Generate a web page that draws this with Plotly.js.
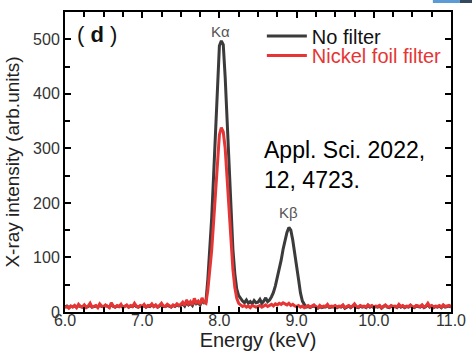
<!DOCTYPE html>
<html>
<head>
<meta charset="utf-8">
<script src="https://cdn.plot.ly/plotly-3.0.1.min.js"></script>
<style>
  html, body { margin: 0; padding: 0; background: #fff; }
  #chart { width: 472px; height: 356px; }
</style>
</head>
<body>
<div id="chart"></div>
<script>
// Spectrum channels: 6.000 keV to 11.000 keV in 0.025 keV steps (201 channels)
const energyStart = 6.0;
const energyStep = 0.025;

// Counts without filter (Cu Kα and Kβ lines)
const noFilter = [
  9, 11, 8, 10, 10, 11, 9, 12, 10, 9, 12, 9, 10, 13, 9, 10, 11, 9, 13, 10,
  10, 12, 10, 9, 14, 10, 9, 11, 10, 12, 9, 10, 12, 9, 11, 10, 13, 10, 9, 11,
  10, 12, 9, 11, 10, 13, 10, 12, 9, 11, 14, 10, 10, 12, 11, 9, 12, 10, 13, 11,
  12, 15, 11, 18, 13, 16, 12, 20, 15, 17, 13, 21, 17, 18, 60, 108, 172, 250, 340, 420,
  488, 497, 490, 430, 348, 262, 180, 115, 70, 42, 30, 24, 20, 17, 22, 16, 19, 15, 21, 17,
  18, 23, 16, 20, 26, 19, 22, 28, 36, 48, 62, 76, 95, 115, 132, 146, 155, 150, 132, 110,
  86, 60, 35, 20, 14, 9, 10, 8, 10, 11, 9, 7, 10, 8, 9, 9, 12, 8, 9, 9,
  11, 8, 10, 9, 12, 7, 9, 11, 8, 10, 13, 9, 8, 11, 9, 10, 8, 12, 9, 11,
  8, 10, 9, 11, 7, 10, 12, 9, 8, 11, 9, 10, 8, 12, 9, 11, 8, 10, 9, 12,
  9, 8, 11, 10, 9, 12, 8, 10, 14, 9, 11, 8, 10, 9, 11, 8, 12, 9, 10, 11,
  9
];

// Counts with the nickel foil filter (Kβ suppressed)
const nickelFilter = [
  8, 10, 7, 11, 9, 12, 8, 14, 10, 9, 13, 8, 11, 16, 9, 10, 12, 8, 15, 11,
  9, 13, 10, 8, 17, 11, 9, 12, 10, 14, 8, 11, 13, 9, 12, 10, 16, 11, 9, 12,
  10, 14, 9, 12, 11, 15, 10, 13, 9, 12, 16, 11, 10, 14, 12, 9, 13, 11, 15, 12,
  14, 18, 12, 22, 15, 19, 13, 25, 17, 20, 14, 26, 18, 16, 40, 72, 113, 165, 225, 280,
  325, 338, 330, 300, 245, 180, 125, 78, 45, 25, 16, 13, 10, 12, 9, 11, 8, 12, 10, 9,
  10, 12, 9, 11, 13, 10, 12, 14, 11, 15, 13, 16, 14, 17, 15, 13, 16, 12, 14, 11,
  10, 12, 9, 11, 8, 10, 12, 9, 11, 13, 10, 8, 12, 9, 11, 10, 14, 9, 11, 10,
  12, 9, 11, 10, 13, 8, 10, 12, 9, 11, 15, 10, 9, 12, 10, 11, 9, 13, 10, 12,
  9, 11, 10, 12, 8, 11, 13, 10, 9, 12, 10, 11, 9, 14, 10, 12, 9, 11, 10, 13,
  10, 9, 12, 11, 10, 13, 9, 11, 16, 10, 12, 9, 11, 10, 12, 9, 13, 10, 11, 12,
  10
];

// Axis ticks
const xTickVals = [6, 7, 8, 9, 10, 11];
const xTickText = ['6.0', '7.0', '8.0', '9.0', '10.0', '11.0'];
const yTickVals = [0, 100, 200, 300, 400, 500];

const font = 'Arial, "Liberation Sans", sans-serif';
const darkLine = '#3b3b3b';
const redLine = '#e53535';

const traces = [
  {
    type: 'scatter', mode: 'lines', name: 'No filter',
    x0: energyStart, dx: energyStep, y: noFilter,
    line: { color: darkLine, width: 3 },
    legend: 'legend'
  },
  {
    type: 'scatter', mode: 'lines',
    name: '<span style="color:' + redLine + '">Nickel foil filter</span>',
    x0: energyStart, dx: energyStep, y: nickelFilter,
    line: { color: redLine, width: 3 },
    legend: 'legend2'
  }
];

const axisCommon = {
  showline: true, linecolor: '#000', linewidth: 2, mirror: 'allticks',
  ticks: 'inside', ticklen: 6, tickwidth: 2, tickcolor: '#000',
  showgrid: false, zeroline: false,
  tickfont: { family: font, size: 16, color: '#333' }
};

const legendCommon = {
  bgcolor: 'rgba(0,0,0,0)', borderwidth: 0,
  font: { family: font, size: 20, color: '#111' },
  xanchor: 'left', yanchor: 'middle', itemwidth: 40,
  tracegroupgap: 0
};

const layout = {
  width: 472, height: 356,
  margin: { l: 65, r: 21, t: 12, b: 44 },
  paper_bgcolor: '#fff', plot_bgcolor: '#fff',
  showlegend: true,
  xaxis: Object.assign({}, axisCommon, {
    range: [6, 11], tickvals: xTickVals, ticktext: xTickText,
    ticklabelstandoff: -7,
    minor: { dtick: 0.25, tick0: 6, ticks: 'inside', ticklen: 5, tickwidth: 2, tickcolor: '#000' },
    title: { text: 'Energy (keV)', font: { family: font, size: 20, color: '#222' }, standoff: 4 }
  }),
  yaxis: Object.assign({}, axisCommon, {
    range: [0, 550], tickvals: yTickVals,
    minor: { dtick: 50, tick0: 0, ticks: 'inside', ticklen: 5, tickwidth: 2, tickcolor: '#000' },
    title: { text: 'X-ray intensity (arb.units)', font: { family: font, size: 19, color: '#222' }, standoff: 8 }
  }),
  legend: Object.assign({}, legendCommon, { x: 0.51, y: 0.92 }),
  legend2: Object.assign({}, legendCommon, { x: 0.51, y: 0.855 }),
  shapes: [
    // thin strip of the page header along the top edge
    { type: 'rect', xref: 'paper', yref: 'paper', x0: 0.953, x1: 1.023, y0: 1.030, y1: 1.045,
      line: { width: 0 }, fillcolor: '#5b9bd5', layer: 'above' },
    { type: 'rect', xref: 'paper', yref: 'paper', x0: 1.023, x1: 1.06, y0: 1.030, y1: 1.045,
      line: { width: 0 }, fillcolor: '#34495e', layer: 'above' }
  ],
  annotations: [
    { xref: 'paper', yref: 'paper', x: 0.025, y: 0.925, xanchor: 'left', yanchor: 'middle',
      text: '( <b>d</b> )', showarrow: false, font: { family: font, size: 22, color: '#111' } },
    { xref: 'x', yref: 'paper', x: 8.02, y: 0.935, xanchor: 'center', yanchor: 'middle',
      text: 'Kα', showarrow: false, font: { family: font, size: 15, color: '#555' } },
    { xref: 'x', yref: 'paper', x: 8.9, y: 0.33, xanchor: 'center', yanchor: 'middle',
      text: 'Kβ', showarrow: false, font: { family: font, size: 15, color: '#555' } },
    { xref: 'paper', yref: 'paper', x: 0.51, y: 0.49, xanchor: 'left', yanchor: 'middle', align: 'left',
      text: 'Appl. Sci. 2022,<br>12, 4723.', showarrow: false, font: { family: font, size: 23, color: '#000' } }
  ]
};

Plotly.newPlot('chart', traces, layout, { displayModeBar: false, staticPlot: true });
</script>
</body>
</html>
